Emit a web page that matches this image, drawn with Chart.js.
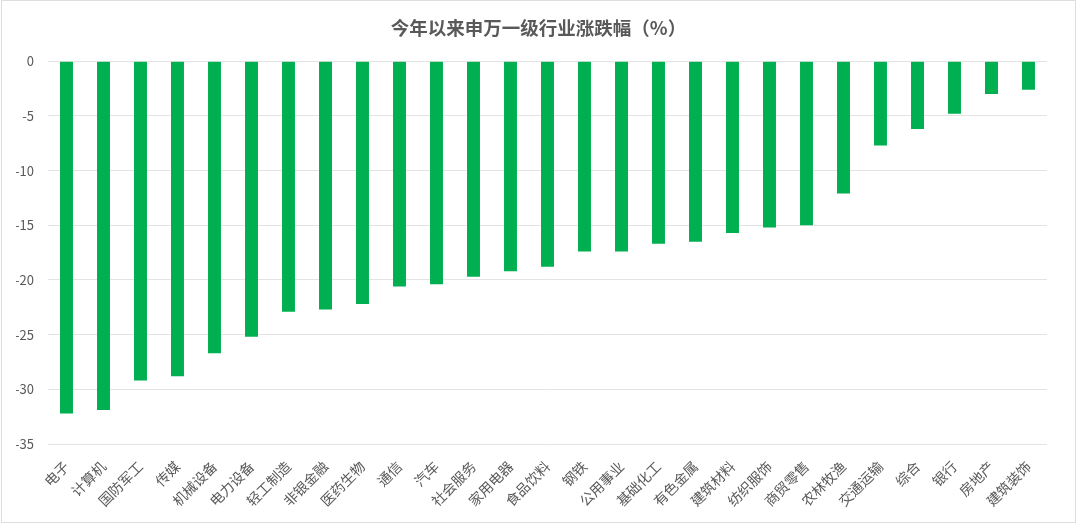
<!DOCTYPE html>
<html lang="zh-CN">
<head>
<meta charset="UTF-8">
<title>今年以来申万一级行业涨跌幅</title>
<script src="https://cdn.jsdelivr.net/npm/chart.js@4.4.1/dist/chart.umd.min.js"></script>
<style>
    html, body {
        margin: 0;
        padding: 0;
        background: #ffffff;
    }
    .chart-box {
        position: absolute;
        left: 1px;
        top: 0;
        width: 1073px;
        height: 521px;
        border: 1px solid #dedede;
        background: #ffffff;
    }
</style>
</head>
<body>
<div class="chart-box">
    <canvas id="industry-chart"></canvas>
</div>
<script>
// 申万一级行业，今年以来涨跌幅（%）
const industries = [
    '电子', '计算机', '国防军工', '传媒', '机械设备', '电力设备', '轻工制造',
    '非银金融', '医药生物', '通信', '汽车', '社会服务', '家用电器', '食品饮料',
    '钢铁', '公用事业', '基础化工', '有色金属', '建筑材料', '纺织服饰', '商贸零售',
    '农林牧渔', '交通运输', '综合', '银行', '房地产', '建筑装饰'
];
const changes = [
    -32.2, -31.9, -29.2, -28.8, -26.7, -25.2, -22.9,
    -22.7, -22.2, -20.6, -20.4, -19.7, -19.2, -18.8,
    -17.4, -17.4, -16.7, -16.5, -15.7, -15.2, -15.0,
    -12.1, -7.7, -6.2, -4.8, -3.0, -2.6
];
const yTicks = [0, -5, -10, -15, -20, -25, -30, -35];

const chartTitle = '今年以来申万一级行业涨跌幅（%）';
const fontFamily = '"Noto Sans CJK SC", "Noto Sans", sans-serif';

class IndustryChart {
    constructor(canvasId) {
        this.ctx = document.getElementById(canvasId).getContext('2d');
        this.init();
    }

    init() {
        this.chart = new Chart(this.ctx, {
            type: 'bar',
            data: {
                labels: industries,
                datasets: [{
                    label: '涨跌幅',
                    data: changes,
                    backgroundColor: '#00b050',
                    borderWidth: 0,
                    categoryPercentage: 1,
                    barPercentage: 0.35
                }]
            },
            options: {
                responsive: true,
                maintainAspectRatio: false,
                animation: false,
                layout: {
                    padding: { left: 14, right: 14, top: 0, bottom: 0 }
                },
                plugins: {
                    legend: { display: false },
                    tooltip: { enabled: false },
                    title: {
                        display: true,
                        text: chartTitle,
                        color: '#595959',
                        font: { family: fontFamily, size: 18.5, weight: 'bold' },
                        padding: { top: 16, bottom: 22 }
                    }
                },
                scales: {
                    x: {
                        grid: { display: false, drawTicks: false },
                        border: { display: false },
                        afterFit: (axis) => { axis.height = 78; },
                        ticks: {
                            autoSkip: false,
                            maxRotation: 45,
                            minRotation: 45,
                            padding: 14,
                            color: '#595959',
                            font: { family: fontFamily, size: 14 }
                        }
                    },
                    y: {
                        min: Math.min(...yTicks),
                        max: Math.max(...yTicks),
                        afterBuildTicks: (axis) => {
                            axis.ticks = yTicks.map(v => ({ value: v }));
                        },
                        afterFit: (axis) => { axis.width = 32; },
                        grid: { color: '#e3e3e3', lineWidth: 1, drawTicks: false },
                        border: { display: false },
                        ticks: {
                            padding: 14,
                            color: '#595959',
                            font: { family: fontFamily, size: 13 }
                        }
                    },
                    // empty right margin so the plot stops where the original does
                    spacer: {
                        type: 'linear',
                        position: 'right',
                        grid: { display: false, drawTicks: false },
                        border: { display: false },
                        ticks: { display: false },
                        afterFit: (axis) => { axis.width = 14; }
                    }
                }
            }
        });
    }
}

const industryChart = new IndustryChart('industry-chart');
</script>
</body>
</html>
